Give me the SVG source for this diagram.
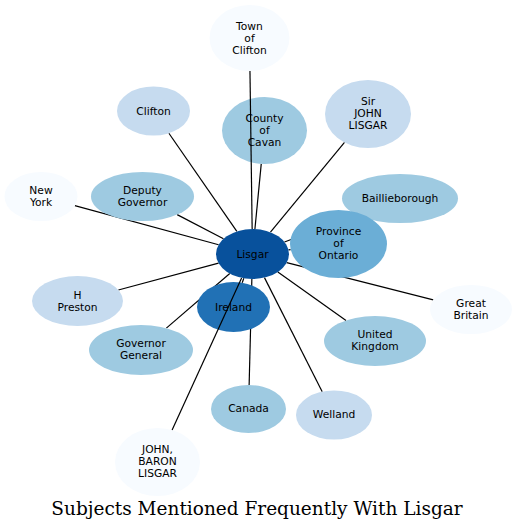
<svg xmlns="http://www.w3.org/2000/svg" width="517" height="531" viewBox="0 0 517 531">
<style>
.e{stroke:#000;stroke-width:1.2;fill:none}
.t{font-family:"DejaVu Sans",sans-serif;font-size:10.7px;fill:#000;text-anchor:middle}
.c1{fill:#f7fbff}.c2{fill:#c6dbef}.c3{fill:#9ecae1}.c4{fill:#6baed6}.c5{fill:#2171b5}.c6{fill:#08519c}
.title{font-family:"DejaVu Serif",serif;font-size:18.5px;fill:#000;text-anchor:middle}
</style>
<rect width="517" height="531" fill="#fff"/>
<g id="edges">
<line class="e" x1="236.86" y1="231.41" x2="168.88" y2="133.22"/>
<line class="e" x1="254.92" y1="229.05" x2="261.25" y2="163.9"/>
<line class="e" x1="270.46" y1="232.23" x2="344.51" y2="142.47"/>
<line class="e" x1="284.49" y1="241.96" x2="356.7" y2="214.8"/>
<line class="e" x1="288.49" y1="249.8" x2="290.65" y2="249.56"/>
<line class="e" x1="286.72" y1="262.69" x2="433.27" y2="299.92"/>
<line class="e" x1="277.84" y1="272" x2="346.03" y2="320.42"/>
<line class="e" x1="264.46" y1="277.62" x2="322.21" y2="391.71"/>
<line class="e" x1="251.85" y1="279" x2="249.12" y2="385"/>
<line class="e" x1="229.78" y1="273.56" x2="166.36" y2="328.17"/>
<line class="e" x1="218.52" y1="263.13" x2="118.38" y2="290.02"/>
<line class="e" x1="218.57" y1="244.78" x2="74.84" y2="205.7"/>
<line class="e" x1="223.48" y1="238.83" x2="177.16" y2="214.62"/>
<line class="e" x1="243.8" y1="278.28" x2="242.2" y2="282.72"/>
</g>
<g id="n_town_of_clifton"><ellipse class="c1" cx="249.5" cy="38" rx="40" ry="33"/><text class="t" x="249.5" y="29.5">Town</text><text class="t" x="249.5" y="41.5">of</text><text class="t" x="249.5" y="53.5">Clifton</text></g>
<g id="n_clifton"><ellipse class="c2" cx="153.5" cy="111" rx="36.5" ry="24.5"/><text class="t" x="153.5" y="114.5">Clifton</text></g>
<g id="n_county_of_cavan"><ellipse class="c3" cx="264.5" cy="130.5" rx="42.5" ry="33.5"/><text class="t" x="264.5" y="122">County</text><text class="t" x="264.5" y="134">of</text><text class="t" x="264.5" y="146">Cavan</text></g>
<g id="n_sir_john_lisgar"><ellipse class="c2" cx="368" cy="114" rx="43" ry="34"/><text class="t" x="368" y="105">Sir</text><text class="t" x="368" y="117">JOHN</text><text class="t" x="368" y="129">LISGAR</text></g>
<g id="n_baillieborough"><ellipse class="c3" cx="400" cy="198.5" rx="58" ry="24.5"/><text class="t" x="400" y="202">Baillieborough</text></g>
<g id="n_new_york"><ellipse class="c1" cx="41" cy="196.5" rx="36.5" ry="24.5"/><text class="t" x="41" y="194">New</text><text class="t" x="41" y="206">York</text></g>
<g id="n_deputy_governor"><ellipse class="c3" cx="142.5" cy="196.5" rx="51.5" ry="24.5"/><text class="t" x="142.5" y="194">Deputy</text><text class="t" x="142.5" y="206">Governor</text></g>
<g id="n_province_of_ontario"><ellipse class="c4" cx="338.5" cy="244" rx="48.5" ry="34"/><text class="t" x="338.5" y="235">Province</text><text class="t" x="338.5" y="247">of</text><text class="t" x="338.5" y="259">Ontario</text></g>
<g id="n_great_britain"><ellipse class="c1" cx="471" cy="309.5" rx="41" ry="24.5"/><text class="t" x="471" y="307">Great</text><text class="t" x="471" y="319">Britain</text></g>
<g id="n_h_preston"><ellipse class="c2" cx="77.5" cy="301" rx="45.5" ry="25"/><text class="t" x="77.5" y="298.5">H</text><text class="t" x="77.5" y="310.5">Preston</text></g>
<g id="n_ireland"><ellipse class="c5" cx="233.5" cy="307" rx="36.5" ry="25"/><text class="t" x="233.5" y="310.5">Ireland</text></g>
<g id="n_lisgar"><ellipse class="c6" cx="252.5" cy="254" rx="36.5" ry="25"/><text class="t" x="252.5" y="257.5">Lisgar</text></g>
<g id="n_united_kingdom"><ellipse class="c3" cx="375" cy="341" rx="51" ry="25"/><text class="t" x="375" y="338">United</text><text class="t" x="375" y="350">Kingdom</text></g>
<g id="n_governor_general"><ellipse class="c3" cx="141" cy="350" rx="52" ry="25"/><text class="t" x="141" y="347">Governor</text><text class="t" x="141" y="359">General</text></g>
<g id="n_canada"><ellipse class="c3" cx="248.5" cy="409" rx="37.5" ry="24"/><text class="t" x="248.5" y="412">Canada</text></g>
<g id="n_welland"><ellipse class="c2" cx="334" cy="415" rx="38" ry="24.5"/><text class="t" x="334" y="418">Welland</text></g>
<g id="n_john_baron_lisgar"><ellipse class="c1" cx="157.5" cy="462" rx="42.5" ry="34"/><text class="t" x="157.5" y="453">JOHN,</text><text class="t" x="157.5" y="465">BARON</text><text class="t" x="157.5" y="477">LISGAR</text></g>
<g id="edges_top">
<line class="e" x1="252.15" y1="229" x2="249.96" y2="71"/>
<line class="e" x1="241.6" y1="277.9" x2="172.1" y2="430.1"/>
</g>
<text class="title" x="257" y="515">Subjects Mentioned Frequently With Lisgar</text>
</svg>
